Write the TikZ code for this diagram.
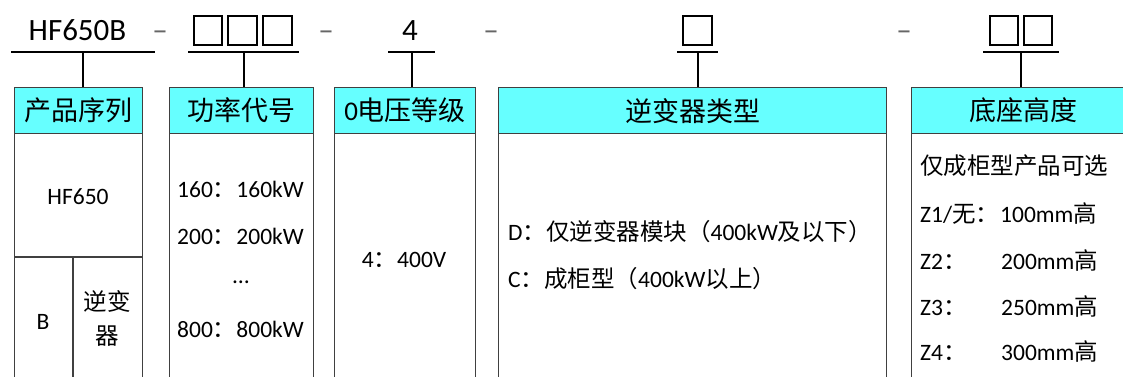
\documentclass[tikz,border=0pt]{standalone}
\usepackage{fontspec}
\setmainfont{Carlito}
\newfontfamily\cjk{Noto Sans CJK SC}
\newcommand{\zh}[1]{{\cjk #1}}
\definecolor{hdcyan}{HTML}{66FFFF}
\definecolor{frm}{HTML}{404040}
\usetikzlibrary{positioning}
\begin{document}
\begin{tikzpicture}[x=1pt,y=-1pt,
    hd/.style={draw=frm,fill=hdcyan,line width=1.3pt,anchor=north west,
      minimum height=46pt,inner sep=0pt,font=\fontsize{27}{29}\selectfont},
    bd/.style={draw=frm,line width=1.3pt,anchor=north west,inner sep=0pt,
      minimum height=260pt},
    sq/.style={draw,line width=1.8pt,minimum width=28.5pt,minimum height=29.5pt,inner sep=0pt},
    code/.style={font=\fontsize{31}{33}\selectfont,anchor=base,inner sep=0pt},
    dsh/.style={code,black!60},
    txt/.style={font=\fontsize{23.5}{34}\selectfont,inner sep=0pt,anchor=base west},
    tick/.style={line width=1.8pt}]
  \useasboundingbox (0,0) rectangle (1123,376);
  \clip (0,0) rectangle (1123,376);
  % the model code along the top
  \node[code] (pn) at (77.5,40) {HF650B};
  \node[sq] (s21) at (208,30.5) {};
  \node[sq] (s22) at (242.5,30.5) {};
  \node[sq] (s23) at (277.5,30.5) {};
  \node[code] (vc) at (410,40) {4};
  \node[sq] (s41) at (697.5,30.5) {};
  \node[sq] (s51) at (1004,30.5) {};
  \node[sq] (s52) at (1038,30.5) {};
  \foreach \x/\n in {160/d1,326/d2,491/d3,904/d4}{ \node[dsh] (\n) at (\x,40) {–}; }
  % the bodies of the five fields, open at the bottom
  \node[bd,minimum width=128pt] (b1) at (14,133) {};
  \node[bd,minimum width=144pt] (b2) at (169,133) {};
  \node[bd,minimum width=141pt] (b3) at (334,133) {};
  \node[bd,minimum width=388pt] (b4) at (498,133) {};
  \node[bd,minimum width=224pt] (b5) at (911,133) {};
  \node[hd,minimum width=128pt] (h1) at (14,87) {\zh{产品序列}};
  \node[hd,minimum width=144pt] (h2) at (169,87) {\zh{功率代号}};
  \node[hd,minimum width=141pt] (h3) at (334,87) {0\zh{电压等级}};
  \node[hd,minimum width=388pt] (h4) at (498,87) {\zh{逆变器类型}};
  \node[hd,minimum width=224pt] (h5) at (911,87) {\zh{底座高度}};
  % underlines and the ticks down to the headers
  \coordinate (u1a) at (11,52);   \coordinate (u1b) at (155,52);  \coordinate (t1) at (83,52);
  \coordinate (u2a) at (188,52);  \coordinate (u2b) at (299,52);  \coordinate (t2) at (244,52);
  \coordinate (u3a) at (388,52);  \coordinate (u3b) at (435,52);  \coordinate (t3) at (412,52);
  \coordinate (u4a) at (677,52);  \coordinate (u4b) at (718,52);  \coordinate (t4) at (698,52);
  \coordinate (u5a) at (983,52);  \coordinate (u5b) at (1059,52); \coordinate (t5) at (1021,52);
  \foreach \i in {1,...,5}{
    \draw[tick] (u\i a) -- (u\i b);
    \draw[tick] (t\i) -- (t\i |- h\i.north);
  }
  % product series split
  \coordinate (c1) at (14,257);
  \coordinate (c2) at (142,257);
  \coordinate (c3) at (73,257);
  \draw[frm,line width=1.3pt] (c1) -- (c2) (c3) -- (c3 |- b1.south);
  \node[txt,anchor=base] (hf) at (78,204.5) {HF650};
  \node[txt,anchor=base] (bb) at (43,329.5) {B};
  \node[txt,anchor=center,align=center] (inv) at (107,318) {\zh{逆变}\\\zh{器}};
  % power codes
  \node[txt] (p1) at (177,197.5) {160\zh{：}160kW};
  \node[txt] (p2) at (177,244.5) {200\zh{：}200kW};
  \node[txt,anchor=base] (p3) at (241,283) {…};
  \node[txt] (p4) at (177,337.5) {800\zh{：}800kW};
  % voltage
  \node[txt,anchor=base] (v1) at (404,267.5) {4\zh{：}400V};
  % inverter type
  \node[txt] (ty1) at (508,240.5) {D\zh{：仅逆变器模块（}400kW\zh{及以下）}};
  \node[txt] (ty2) at (508,287.5) {C\zh{：成柜型（}400kW\zh{以上）}};
  % base height
  \node[txt] (z0) at (920,174) {\zh{仅成柜型产品可选}};
  \node[txt] (z1) at (920,222.5) {Z1/\zh{无：}};
  \node[txt] (z2) at (920,269.5) {Z2\zh{：}};
  \node[txt] (z3) at (920,315.5) {Z3\zh{：}};
  \node[txt] (z4) at (920,360.5) {Z4\zh{：}};
  \node[txt] (m1) at (1000,222.5) {100mm\zh{高}};
  \node[txt] (m2) at (1001,269.5) {200mm\zh{高}};
  \node[txt] (m3) at (1001,315.5) {250mm\zh{高}};
  \node[txt] (m4) at (1001,360.5) {300mm\zh{高}};
\end{tikzpicture}
\end{document}
